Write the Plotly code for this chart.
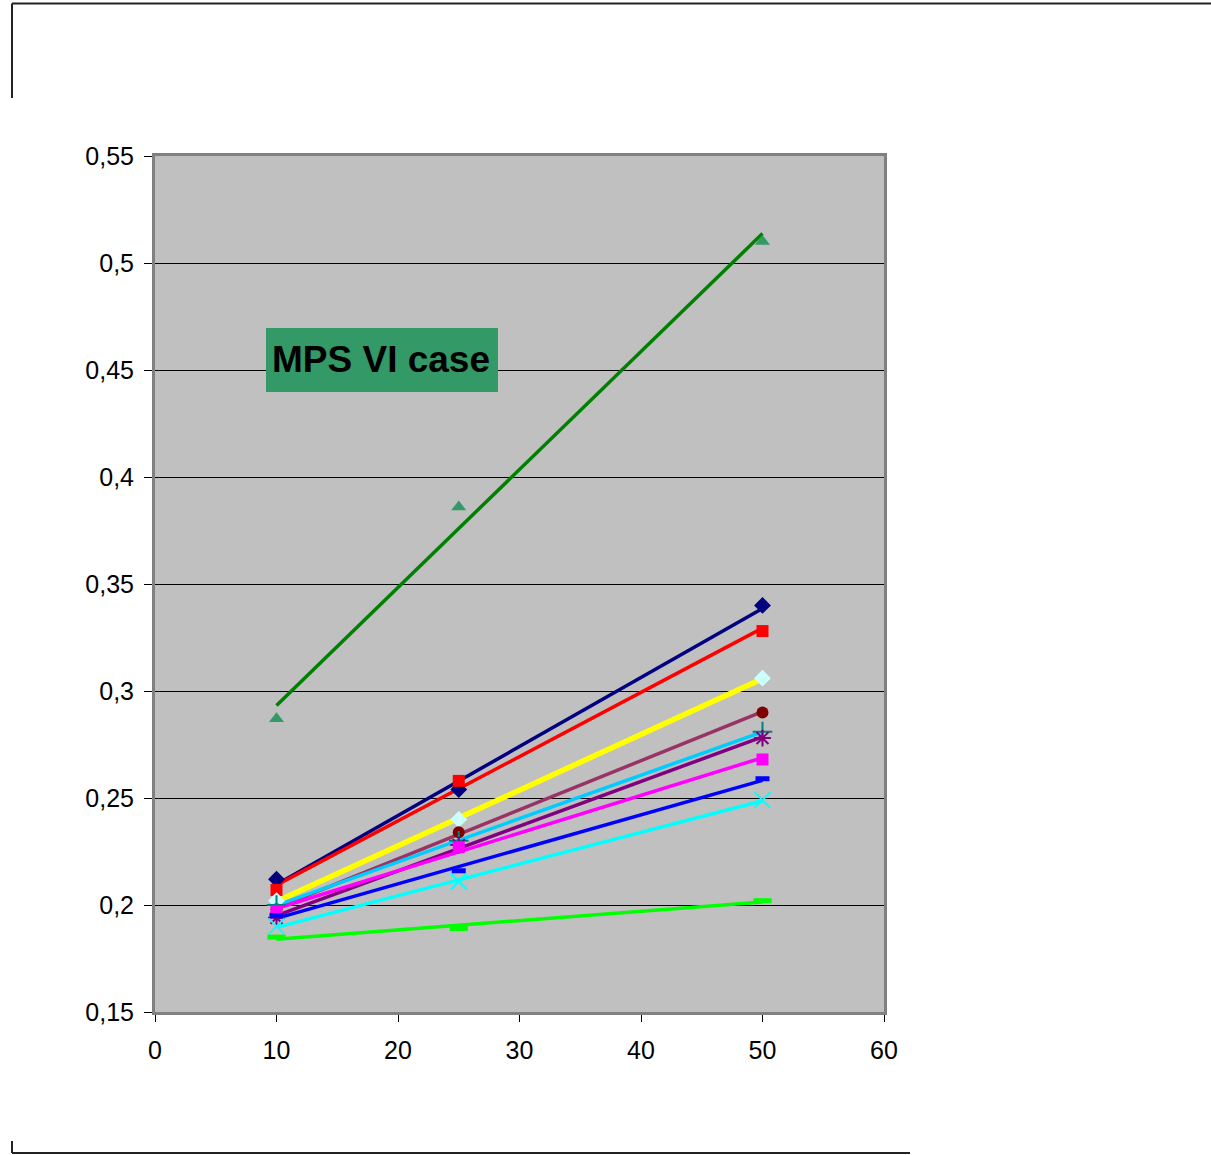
import numpy as np
import plotly.graph_objects as go

# Concentrations (x) and measured values for each sample series
x_vals = [10, 25, 50]

series_navy = [0.212, 0.254, 0.340]
series_red = [0.207, 0.258, 0.328]
series_yellow = [0.202, 0.240, 0.306]
series_maroon = [0.198, 0.234, 0.290]
series_teal = [0.200, 0.230, 0.281]
series_purple = [0.194, 0.228, 0.278]
series_magenta = [0.197, 0.227, 0.268]
series_blue = [0.195, 0.216, 0.259]
series_cyan = [0.190, 0.211, 0.249]
series_green = [0.185, 0.189, 0.202]
series_mps6 = [0.287, 0.386, 0.510]

annotation_text = "MPS VI case"

W, H = 1211, 1155


def px(x):
    return x / W


def py(y):
    return 1 - y / H


# (values, marker symbol, marker colour, marker size, marker line width, trendline colour, trendline width)
styles = [
    (series_navy, "diamond", "#000080", 13, 0, "#000080", 3.5),
    (series_red, "square", "#FF0000", 12, 0, "#FF0000", 3.5),
    (series_yellow, "diamond", "#CCFFFF", 13, 0, "#FFFF00", 5.5),
    (series_maroon, "circle", "#800000", 12, 0, "#993366", 3.5),
    (series_teal, "cross-thin", "#008080", 14, 2, "#00CCFF", 3.5),
    (series_purple, "asterisk", "#800080", 14, 2, "#800080", 3.5),
    (series_magenta, "square", "#FF00FF", 12, 0, "#FF00FF", 3.5),
    (series_blue, "line-ew", "#0000FF", 10, 5, "#0000FF", 3.5),
    (series_cyan, "x-thin", "#00FFFF", 16, 2, "#00FFFF", 3.5),
    (series_green, "line-ew", "#00FF00", 13, 5, "#00FF00", 3.5),
    (series_mps6, "triangle-up", "#339966", 13, 0, "#008000", 3.5),
]

fig = go.Figure()

# Linear trendlines fitted to each series, drawn over the measured range
for vals, sym, mcol, msize, mlw, lcol, lw in styles:
    slope, intercept = np.polyfit(x_vals, vals, 1)
    xs = [min(x_vals), max(x_vals)]
    ys = [slope * xv + intercept for xv in xs]
    fig.add_trace(go.Scatter(x=xs, y=ys, mode="lines",
                             line=dict(color=lcol, width=lw),
                             hoverinfo="skip", showlegend=False))

# Measured points
for vals, sym, mcol, msize, mlw, lcol, lw in styles:
    if sym in ("cross-thin", "x-thin", "asterisk", "line-ew"):
        marker = dict(symbol=sym, size=msize, color=mcol,
                      line=dict(color=mcol, width=mlw))
    else:
        marker = dict(symbol=sym, size=msize, color=mcol,
                      line=dict(width=0))
    fig.add_trace(go.Scatter(x=x_vals, y=vals, mode="markers",
                             marker=marker, showlegend=False))

axis_font = dict(family="Liberation Sans, Arial, sans-serif", size=25, color="black")

fig.update_layout(
    template="none",
    width=W, height=H,
    autosize=False,
    margin=dict(l=0, r=0, t=0, b=0, pad=0),
    paper_bgcolor="white",
    plot_bgcolor="#C0C0C0",
    separators=", ",
    showlegend=False,
    xaxis=dict(
        domain=[px(155), px(884)],
        range=[0, 60], dtick=10, tick0=0,
        automargin=False,
        showgrid=False, zeroline=False,
        showline=True, linecolor="#808080", linewidth=3, mirror=True,
        ticks="outside", ticklen=7, tickcolor="black", tickwidth=1,
        tickfont=axis_font, ticklabelstandoff=7,
    ),
    yaxis=dict(
        domain=[py(1012), py(156)],
        range=[0.15, 0.55], dtick=0.05, tick0=0.15,
        automargin=False,
        showgrid=True, gridcolor="black", gridwidth=1,
        zeroline=False,
        showline=True, linecolor="#808080", linewidth=3, mirror=True,
        ticks="outside", ticklen=8, tickcolor="black", tickwidth=1,
        tickfont=axis_font, ticklabelstandoff=5,
    ),
)

# Outer chart-area frame fragments
frame = dict(type="line", xref="paper", yref="paper",
             line=dict(color="#222222", width=2))
fig.add_shape(**frame, x0=px(12), y0=py(3.5), x1=px(1211), y1=py(3.5))
fig.add_shape(**frame, x0=px(12), y0=py(3.5), x1=px(12), y1=py(98))
fig.add_shape(**frame, x0=px(12), y0=py(1153), x1=px(910), y1=py(1153))
fig.add_shape(**frame, x0=px(12), y0=py(1141), x1=px(12), y1=py(1153))

# Label box
fig.add_shape(type="rect", xref="paper", yref="paper",
              x0=px(266), x1=px(498), y0=py(392), y1=py(328),
              fillcolor="#339966", line=dict(width=0), layer="above")
fig.add_annotation(xref="paper", yref="paper", x=px(381), y=py(359),
                   text="<b>" + annotation_text + "</b>", showarrow=False,
                   xanchor="center", yanchor="middle",
                   font=dict(family="Liberation Sans, Arial, sans-serif",
                             size=37, color="black"))

fig.write_html("out.html")
